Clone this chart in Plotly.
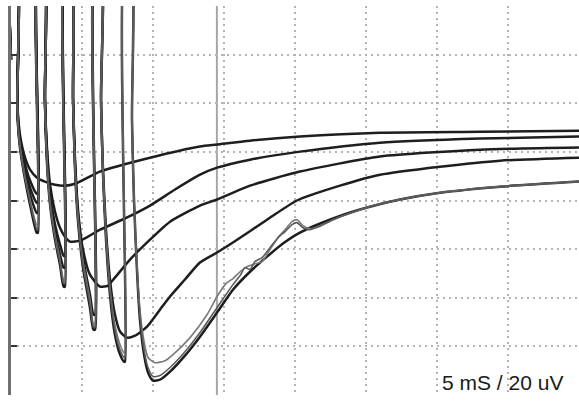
import plotly.graph_objects as go

# ---- data (time in ms, potential in uV; top of screen = 0 uV) ----
STIM_MS = [0.0, 1.90, 3.80, 5.92, 8.03]   # stimulus onsets
ART_W = 0.42                               # artifact width (ms)
SPIKE_UV = 20.0                            # artifact peak (off screen)
START_UV = -22.0
CURSOR_MS = 14.5

T_FAN1 = [0.44, 0.49, 0.63, 0.99, 1.34, 1.80]
T_FAN2 = [2.39, 2.54, 2.75, 3.10, 3.45, 3.70]
T_FAN3 = [4.37, 4.51, 4.72, 5.07, 5.56, 5.80]
T_FAN4 = [6.34, 6.48, 6.69, 6.97, 7.32, 7.68, 7.96]

# trace 1: one stimulus
t1_s1 = [0.44, 0.49, 0.63, 0.99, 1.34, 1.83, 2.39, 3.10, 3.80, 4.51, 6.27, 9.79,
         13.31, 14.51, 16.83, 20.35, 25.99, 33.03, 40.0]
v1_s1 = [-38.5, -44.7, -52.9, -62.4, -67.3, -70.6, -72.2, -73.5, -73.9, -73.1, -68.1,
         -62.4, -57.8, -57.0, -55.4, -53.7, -52.1, -51.7, -51.3]

# trace 2: two stimuli
v2_s1 = [-38.5, -45.9, -54.9, -65.2, -71.8, -77.2]
t2_s2 = [2.39, 2.54, 2.75, 3.10, 3.45, 3.80, 4.15, 4.86, 5.56, 6.27, 8.03, 9.79, 11.55,
         13.31, 14.51, 16.83, 20.35, 25.99, 33.03, 40.0]
v2_s2 = [-38.5, -59.1, -73.5, -84.6, -91.2, -94.9, -96.9, -96.5, -94.4, -92.0, -87.4,
         -82.1, -75.5, -69.4, -66.5, -63.2, -59.9, -56.2, -54.5, -53.7]

# trace 3: three stimuli
v3_s1 = [-38.5, -46.7, -55.8, -67.3, -74.7, -80.9]
v3_s2 = [-38.5, -61.1, -77.6, -89.9, -98.1, -102.7]
t3_s3 = [4.37, 4.51, 4.72, 5.07, 5.56, 6.27, 6.83, 7.32, 8.38, 9.79, 11.20, 13.31,
         14.51, 16.83, 20.35, 25.99, 33.03, 40.0]
v3_s3 = [-38.5, -63.2, -83.8, -100.2, -110.5, -115.4, -115.0, -111.7, -104.3, -96.1,
         -88.7, -82.1, -79.6, -73.9, -68.1, -61.9, -59.1, -58.2]

# trace 4: four stimuli
v4_s1 = [-38.5, -47.6, -57.0, -69.4, -77.6, -85.0]
v4_s2 = [-38.5, -63.2, -79.6, -92.8, -102.3, -107.6]
v4_s3 = [-38.5, -65.2, -85.8, -103.5, -118.7, -126.9]
t4_s4 = [6.34, 6.48, 6.69, 6.97, 7.32, 7.68, 8.17, 8.73, 9.58, 10.49, 11.20, 12.25,
         13.31, 14.51, 15.63, 18.03, 20.14, 23.17, 25.99, 30.21, 34.44, 40.0]
v4_s4 = [-38.5, -67.3, -92.0, -112.5, -126.9, -133.9, -136.4, -135.6, -131.9, -124.9,
         -119.5, -112.5, -105.5, -101.4, -97.3, -87.9, -80.0, -73.9, -69.4, -66.1,
         -63.6, -62.4]

# trace 5: five stimuli (dark)
v5_s1 = [-38.5, -48.8, -58.2, -71.4, -81.7, -93.2]
v5_s2 = [-38.5, -65.2, -81.7, -96.1, -106.4, -115.4]
v5_s3 = [-38.5, -67.3, -88.7, -107.6, -124.1, -133.1]
v5_s4 = [-38.5, -69.4, -96.1, -118.7, -135.2, -143.4, -146.3]
t5_s5 = [8.52, 8.66, 8.87, 9.08, 9.37, 9.65, 10.00, 10.49, 11.20, 12.25, 13.31, 14.51,
         15.63, 16.83, 18.03, 19.15, 20.35, 22.68, 25.07, 27.39, 30.21, 34.44, 40.0]
v5_s5 = [-46.7, -79.6, -108.4, -129.0, -143.4, -150.8, -154.1, -153.7, -150.4, -143.8,
         -136.0, -126.1, -116.7, -109.3, -103.1, -97.7, -93.2, -87.4, -82.9, -79.6,
         -76.8, -74.3, -72.2]

# trace 6: five stimuli (grey, bumpy recovery)
v6_s1 = [-38.5, -48.0, -57.4, -70.6, -79.6, -89.9]
v6_s2 = [-38.5, -64.0, -80.9, -94.4, -104.3, -112.5]
v6_s3 = [-38.5, -66.5, -87.0, -105.1, -120.8, -130.6]
v6_s4 = [-38.5, -68.1, -94.0, -115.8, -131.1, -139.3, -142.6]
t6_s5 = [8.52, 8.66, 8.87, 9.08, 9.37, 9.65, 10.14, 10.85, 11.41, 12.61, 13.80, 14.51,
         15.14, 15.63, 16.13, 16.62, 17.18, 17.68, 18.24, 18.80, 19.30, 19.79, 20.14,
         20.56, 21.06, 21.76, 22.68, 25.07, 27.39, 30.21, 34.44, 40.0]
v6_s5 = [-46.7, -79.6, -106.4, -124.9, -138.0, -144.6, -146.7, -145.9, -143.4, -136.4,
         -127.0, -119.5, -114.2, -112.1, -109.3, -107.2, -106.0, -105.1, -100.2, -95.3,
         -92.0, -88.7, -87.9, -90.3, -91.6, -90.7, -87.9, -82.9, -79.6, -76.8, -74.3,
         -72.2]

# trace 7: five stimuli (grey, wiggly recovery)
v7_s1 = [-38.5, -48.4, -57.8, -70.0, -80.5, -91.5]
v7_s2 = [-38.5, -64.6, -81.3, -95.2, -105.3, -114.0]
v7_s3 = [-38.5, -66.9, -88.0, -106.5, -122.5, -132.0]
v7_s4 = [-38.5, -68.8, -95.0, -117.2, -133.2, -141.5, -144.5]
t7_s5 = [8.52, 8.66, 8.87, 9.08, 9.37, 9.65, 10.00, 10.49, 11.20, 12.25, 13.31, 14.51,
         15.63, 16.13, 16.48, 16.83, 17.18, 17.68, 18.24, 18.80, 19.30, 19.79, 20.14,
         20.56, 21.06, 21.76, 22.68, 25.07, 27.39, 30.21, 34.44, 40.0]
v7_s5 = [-46.7, -79.6, -107.6, -127.4, -141.3, -148.7, -152.4, -152.0, -148.7, -142.2,
         -134.3, -124.1, -114.6, -110.9, -107.6, -108.4, -105.1, -103.5, -99.4, -95.3,
         -92.8, -89.9, -89.1, -91.2, -92.0, -90.3, -87.9, -82.9, -79.6, -76.8, -74.3,
         -72.2]

DARK = "#1e1e1e"
TRACES = [
    dict(segs=[(t1_s1, v1_s1)], color=DARK, width=2.5),
    dict(segs=[(T_FAN1, v2_s1), (t2_s2, v2_s2)], color=DARK, width=2.5),
    dict(segs=[(T_FAN1, v3_s1), (T_FAN2, v3_s2), (t3_s3, v3_s3)], color=DARK, width=2.5),
    dict(segs=[(T_FAN1, v4_s1), (T_FAN2, v4_s2), (T_FAN3, v4_s3), (t4_s4, v4_s4)],
         color=DARK, width=2.5),
    dict(segs=[(T_FAN1, v5_s1), (T_FAN2, v5_s2), (T_FAN3, v5_s3), (T_FAN4, v5_s4),
               (t5_s5, v5_s5)], color=DARK, width=2.5),
    dict(segs=[(T_FAN1, v6_s1), (T_FAN2, v6_s2), (T_FAN3, v6_s3), (T_FAN4, v6_s4),
               (t6_s5, v6_s5)], color="#7a7a7a", width=1.6),
    dict(segs=[(T_FAN1, v7_s1), (T_FAN2, v7_s2), (T_FAN3, v7_s3), (T_FAN4, v7_s4),
               (t7_s5, v7_s5)], color="#5a5a5a", width=1.6),
]


def build(segs):
    t, v = [], []
    for k, (st, sv) in enumerate(segs):
        ts = STIM_MS[k]
        t.append(ts)
        v.append(START_UV if k == 0 else v[-1])
        t += [ts, ts + ART_W]
        v += [SPIKE_UV, SPIKE_UV]
        t += list(st)
        v += list(sv)
    return t, v


fig = go.Figure()
fig.add_vline(x=CURSOR_MS, line_color="#a6a6a6", line_width=2, layer="below")
for tr in TRACES:
    t, v = build(tr["segs"])
    fig.add_trace(go.Scatter(
        x=t, y=v, mode="lines",
        line=dict(color=tr["color"], width=tr["width"], shape="spline", smoothing=0.6),
        hoverinfo="skip", showlegend=False, cliponaxis=True,
    ))

grid = dict(showgrid=True, gridcolor="#b4b4b4", gridwidth=1.5, griddash="2px,4px",
            zeroline=False, showticklabels=False)
fig.update_layout(
    width=579, height=404,
    margin=dict(l=11, r=0, t=6, b=9),
    paper_bgcolor="white", plot_bgcolor="white",
    xaxis=dict(range=[0, 40], tickvals=[5, 10, 15, 20, 25, 30, 35], ticks="",
               showline=False, **grid),
    yaxis=dict(range=[-160, 0], tickvals=[-160, -140, -120, -100, -80, -60, -40, -20],
               ticks="inside", ticklen=6, tickwidth=2, tickcolor="#333333",
               showline=True, linecolor="#707070", linewidth=3, **grid),
    annotations=[dict(text="5 mS / 20 uV", xref="paper", yref="paper",
                      x=0.975, y=0.033, xanchor="right", yanchor="middle",
                      showarrow=False,
                      font=dict(family="Liberation Sans, Arial, sans-serif",
                                size=21, color="#1a1a1a"))],
)
fig.write_html("out.html",
               config={"displayModeBar": False},
               post_script="document.body.style.margin='0';document.body.style.overflow='hidden';")
